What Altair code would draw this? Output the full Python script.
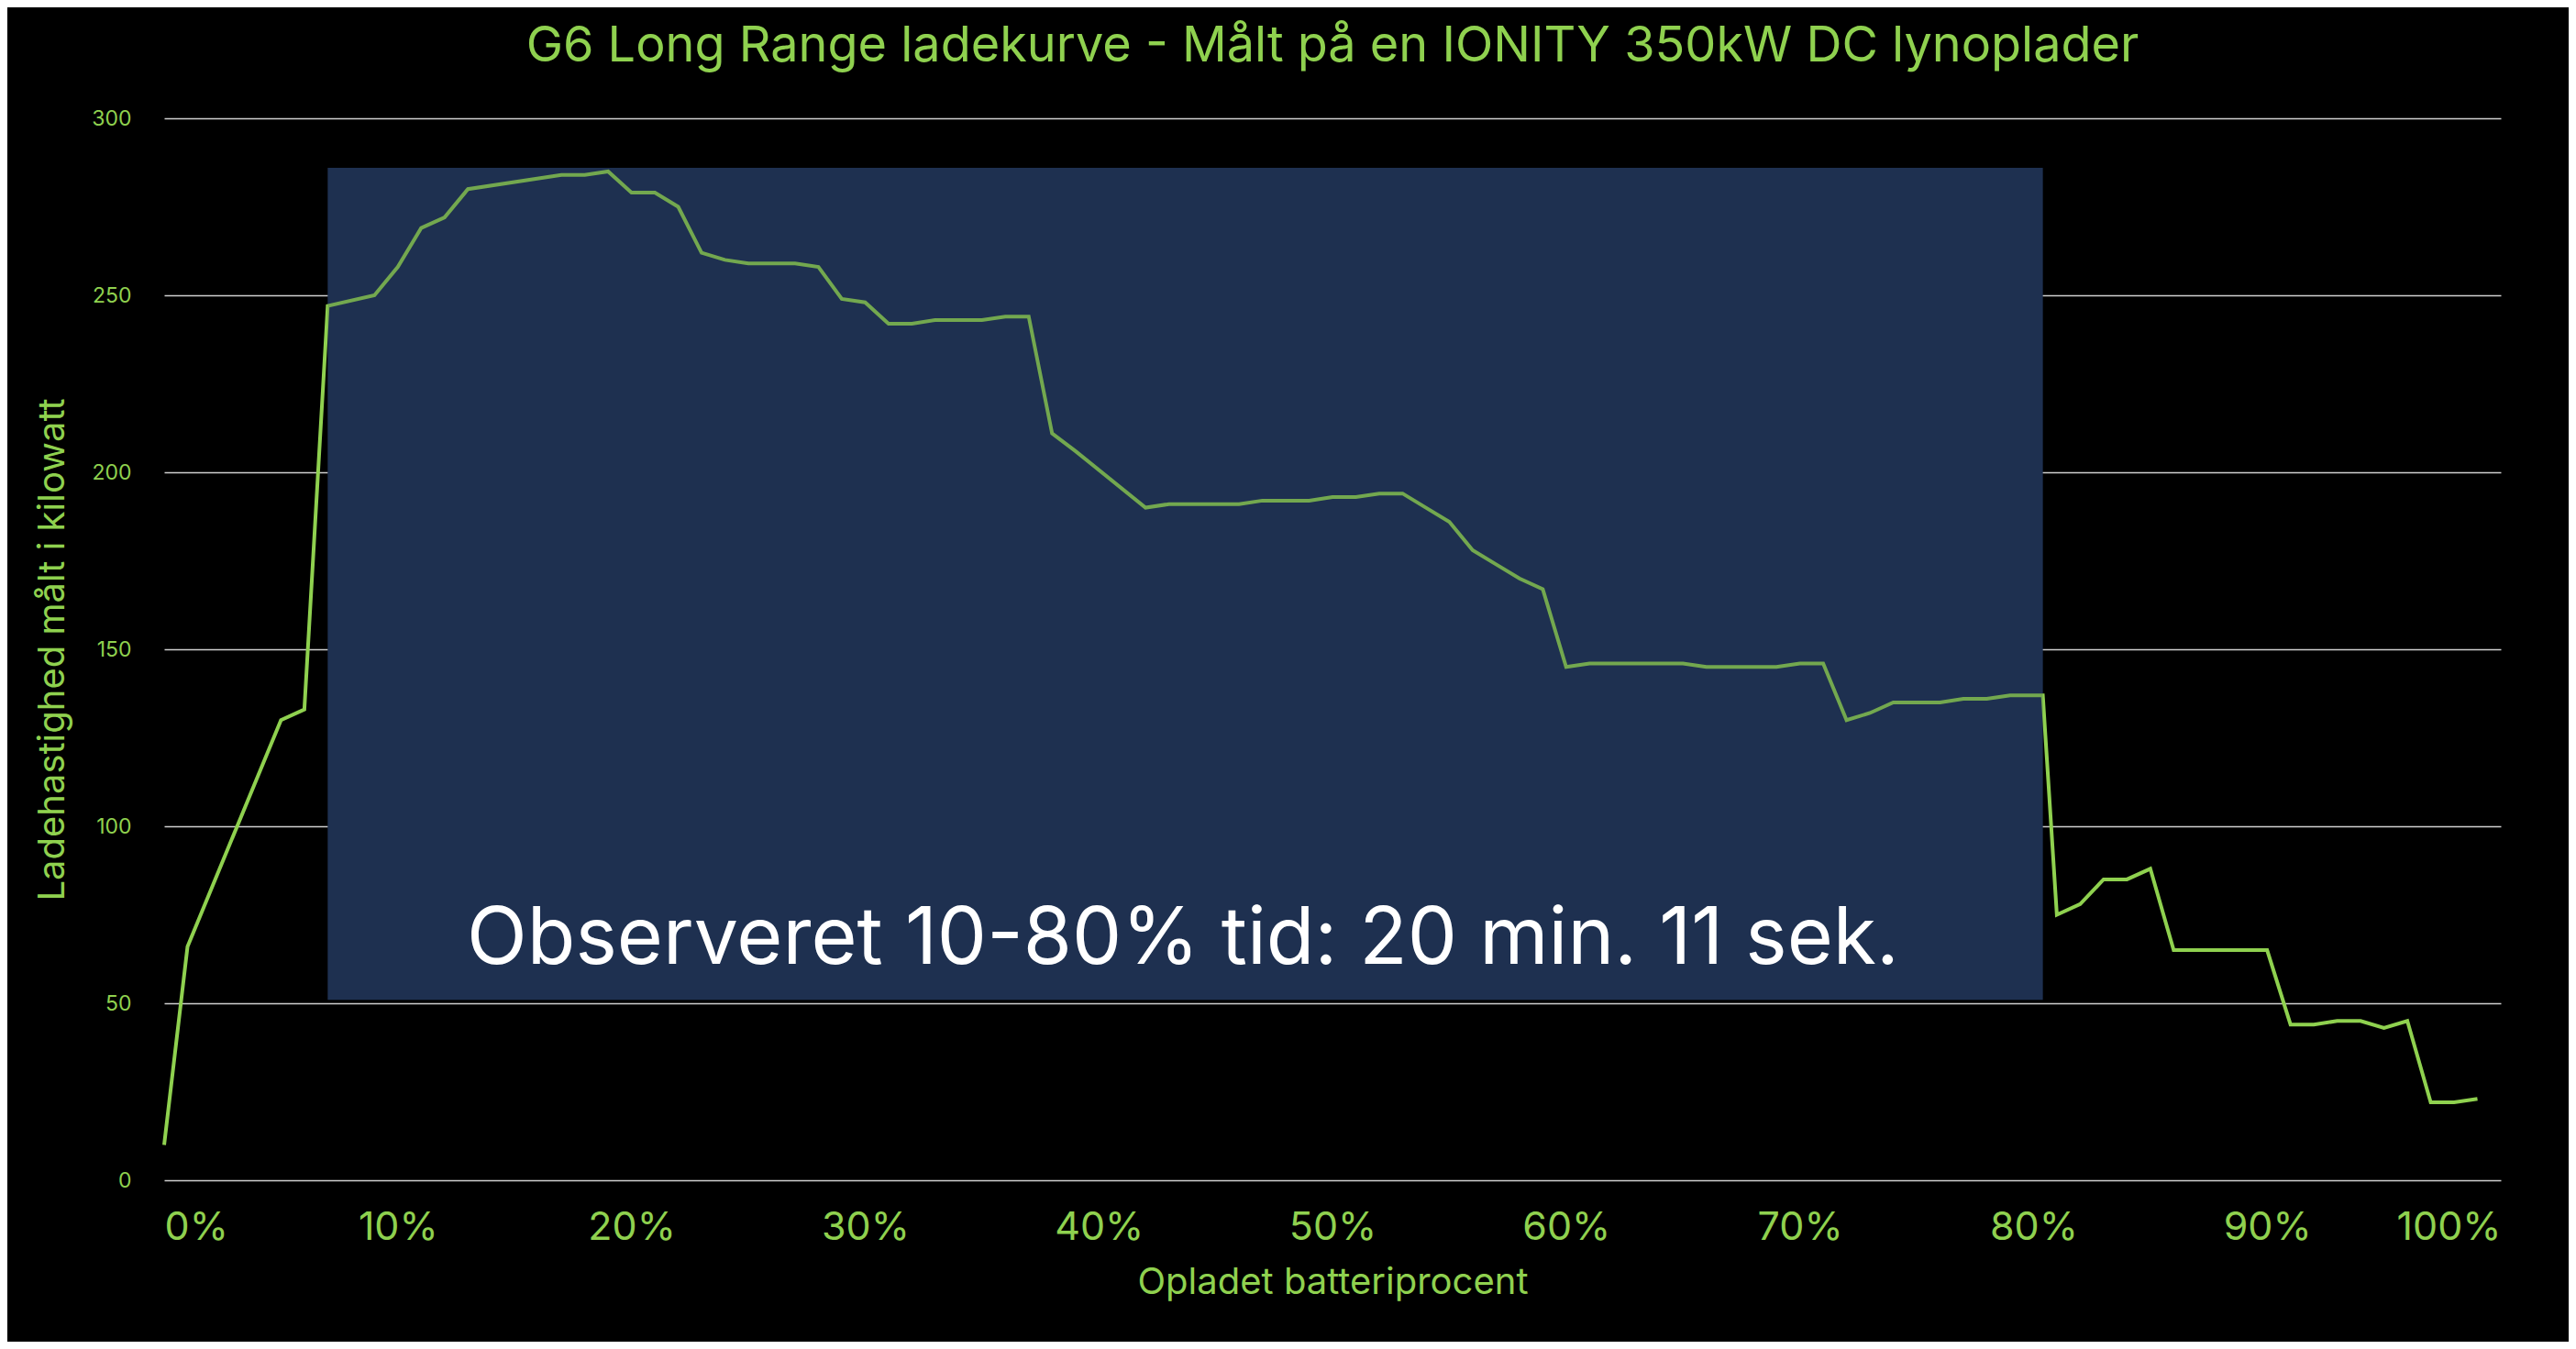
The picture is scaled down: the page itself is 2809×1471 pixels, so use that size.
import altair as alt
import pandas as pd

pct = [0,1,5,6,7,9,10,11,12,13,17,18,19,20,21,22,23,24,25,27,28,29,30,31,32,33,35,36,37,38,39,42,43,46,47,49,50,51,52,53,54,55,56,57,58,59,60,61,65,66,69,70,71,72,73,74,76,77,78,79,80,80.4,81,82,83,84,85,86,90,91,92,93,94,95,96,97,98,99]
kw = [10,66,130,133,247,250,258,269,272,280,284,284,285,279,279,275,262,260,259,259,258,249,248,242,242,243,243,244,244,211,206,190,191,191,192,192,193,193,194,194,190,186,178,174,170,167,145,146,146,145,145,146,146,130,132,135,135,136,136,137,137,137,75,78,85,85,88,65,65,44,44,45,45,43,45,22,22,23]

df = pd.DataFrame({"pct": pct, "kw": kw})
box = pd.DataFrame({"x": [7.0], "x2": [80.4], "y": [51], "y2": [286]})
note = pd.DataFrame({"x": [43.6], "y": [68], "t": ["Observeret 10-80% tid: 20 min. 11 sek."]})

GREEN = "#8fd14f"
FONT = "Inter"

xs = alt.Scale(domain=[0, 100], nice=False)
ys = alt.Scale(domain=[0, 300], nice=False)

rect_back = alt.Chart(box).mark_rect(color="#1e3050").encode(
    x=alt.X("x:Q", scale=xs), x2="x2", y=alt.Y("y:Q", scale=ys), y2="y2")

line = alt.Chart(df).mark_line(color=GREEN, strokeWidth=4).encode(
    x=alt.X("pct:Q", scale=xs,
            axis=alt.Axis(values=list(range(0, 101, 10)), labelExpr="datum.value + '%'",
                          title="Opladet batteriprocent", grid=False, domain=False, ticks=False,
                          labelFontSize=43, labelColor=GREEN, labelPadding=30,
                          titleFontSize=40, titleColor=GREEN, titleFontWeight="normal",
                          titlePadding=18, labelFont=FONT, titleFont=FONT)),
    y=alt.Y("kw:Q", scale=ys,
            axis=alt.Axis(values=list(range(0, 301, 50)), title="Ladehastighed målt i kilowatt",
                          grid=True, gridColor="#d0d0d0", gridWidth=1.5, domain=False, ticks=False,
                          labelFontSize=23, labelColor=GREEN, labelPadding=36,
                          titleFontSize=40, titleColor=GREEN, titleFontWeight="normal",
                          titlePadding=22, labelFont=FONT, titleFont=FONT)))

rect_front = alt.Chart(box).mark_rect(color="#1e3050", opacity=0.25).encode(
    x=alt.X("x:Q", scale=xs), x2="x2", y=alt.Y("y:Q", scale=ys), y2="y2")

text = alt.Chart(note).mark_text(color="white", fontSize=86, font=FONT, align="center",
                                 baseline="middle").encode(
    x=alt.X("x:Q", scale=xs), y=alt.Y("y:Q", scale=ys), text="t:N")

chart = alt.layer(rect_back, line, rect_front, text).properties(
    width=2548, height=1158,
    title=alt.TitleParams("G6 Long Range ladekurve - Målt på en IONITY 350kW DC lynoplader",
                          fontSize=54, color=GREEN, font=FONT, fontWeight="normal",
                          anchor="middle", offset=40),
    padding={"left": 171, "top": 121, "right": 74, "bottom": 176},
    autosize=alt.AutoSizeParams(type="none"),
    background="black",
).configure_view(stroke=None)

chart.save("out.html", embed_options={"renderer": "svg", "actions": False})
